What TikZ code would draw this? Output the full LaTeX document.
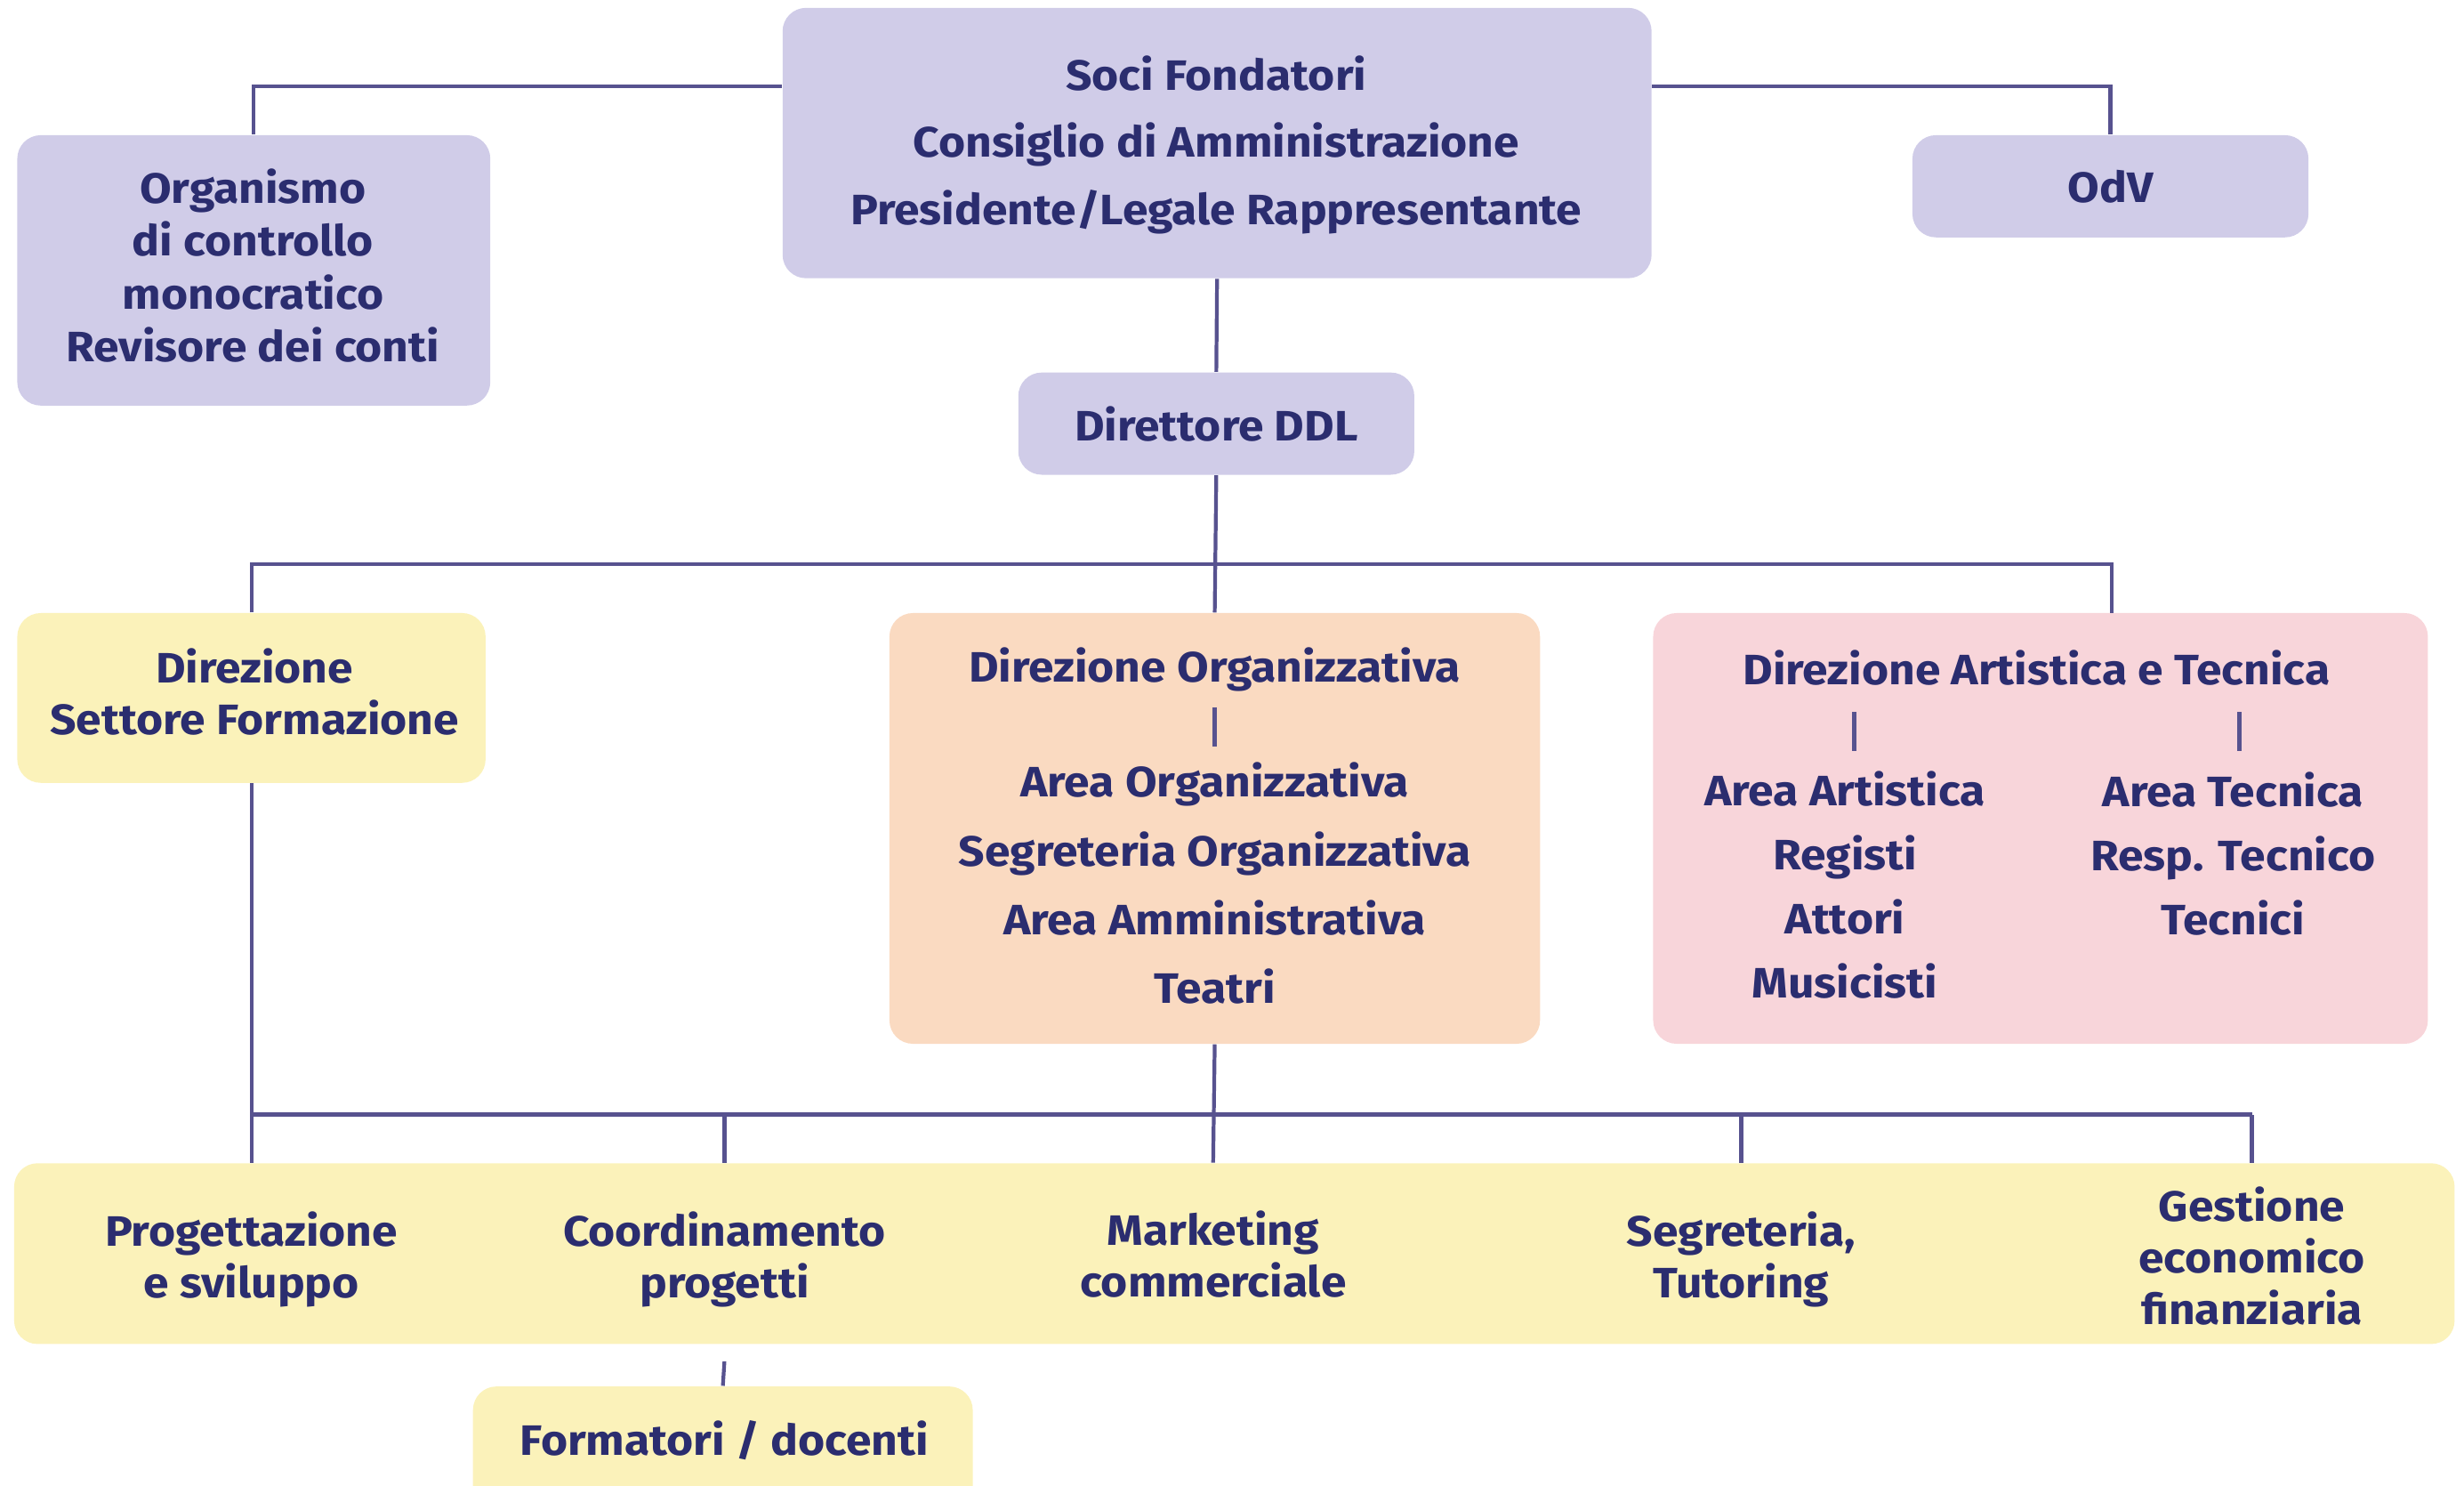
\documentclass[tikz,border=0pt]{standalone}
\usepackage{fontspec}
\setmainfont{Fira Sans}[FakeStretch=1.08]
\usetikzlibrary{positioning}
\definecolor{lilac}{HTML}{D0CCE8}
\definecolor{sand}{HTML}{FBF2BA}
\definecolor{peach}{HTML}{FADAC1}
\definecolor{rose}{HTML}{F8D5DA}
\definecolor{navy}{HTML}{2B2D6F}
\definecolor{wire}{HTML}{57528F}
\newcommand{\unitpx}{0.017666cm}
\tikzstyle{box}=[rectangle,rounded corners=7.5pt,inner sep=0pt]
\tikzstyle{txt}=[text=navy,align=center,inner sep=0pt,font=\bfseries\fontsize{13.6}{16.5}\selectfont]
\tikzstyle{wide}=[txt,font=\bfseries\fontsize{13.6}{21.5}\selectfont]
\tikzstyle{conn}=[draw=wire,line width=1.2pt]

\begin{document}
\begin{tikzpicture}[x=0.017666cm,y=-0.017666cm]
\useasboundingbox (0,0) rectangle (1568,945);

% board and control
\node[box,fill=lilac,minimum width=553*\unitpx,minimum height=172*\unitpx] (soci) at (774.5,91) {};
\node[wide] (socit) at (774,92) {Soci Fondatori\\Consiglio di Amministrazione\\Presidente/Legale Rappresentante};
\node[box,fill=lilac,minimum width=301*\unitpx,minimum height=172*\unitpx] (org) at (161.5,172) {};
\node[txt,font=\bfseries\fontsize{13.6}{16.9}\selectfont] (orgt) at (161,169) {Organismo\\di controllo\\monocratico\\Revisore dei conti};
\node[box,fill=lilac,minimum width=252*\unitpx,minimum height=65*\unitpx,text=navy,font=\bfseries\fontsize{13.6}{16.5}\selectfont] (odv) at (1343,118.5) {OdV};
\node[box,fill=lilac,minimum width=252*\unitpx,minimum height=65*\unitpx,text=navy,font=\bfseries\fontsize{13.6}{16.5}\selectfont] (ddl) at (774,269.5) {Direttore DDL};

% direzioni
\node[box,fill=sand,minimum width=298*\unitpx,minimum height=108*\unitpx] (dsf) at (160,444) {};
\node[txt] (dsft) at (162,440) {Direzione\\Settore Formazione};
\node[box,fill=peach,minimum width=414*\unitpx,minimum height=274*\unitpx] (dorg) at (773,527) {};
\node[txt] (dorgt) at (773,426) {Direzione Organizzativa};
\node[txt,font=\bfseries\fontsize{13.6}{22}\selectfont] (dorgl) at (773,562) {Area Organizzativa\\Segreteria Organizzativa\\Area Amministrativa\\Teatri};
\node[box,fill=rose,minimum width=493*\unitpx,minimum height=274*\unitpx] (dart) at (1298.5,527) {};
\node[txt] (dartt) at (1296,425) {Direzione Artistica e Tecnica};
\node[txt,font=\bfseries\fontsize{13.6}{20.5}\selectfont] (artl) at (1174,563) {Area Artistica\\Registi\\Attori\\Musicisti};
\node[txt,font=\bfseries\fontsize{13.6}{20.5}\selectfont] (tecl) at (1421,543) {Area Tecnica\\Resp. Tecnico\\Tecnici};

% settore formazione
\node[box,fill=sand,minimum width=1553*\unitpx,minimum height=115*\unitpx] (band) at (785.5,797.5) {};
\node[txt] (prog) at (160,801) {Progettazione\\e sviluppo};
\node[txt] (coord) at (461,801) {Coordinamento\\progetti};
\node[txt] (mark) at (772,798) {Marketing\\commerciale};
\node[txt] (segr) at (1108,801) {Segreteria,\\Tutoring};
\node[txt] (gest) at (1433,799) {Gestione\\economico\\finanziaria};
\node[box,fill=sand,minimum width=318*\unitpx,minimum height=130*\unitpx] (form) at (460,947) {};
\node[txt] (formt) at (461,916) {Formatori / docenti};

% connectors
\coordinate (bus0) at (0,55);
\coordinate (bus1) at (0,359);
\coordinate (bus2) at (0,709);
\coordinate (artin) at (1344,390);
\draw[conn] (org.north) |- (soci.west |- bus0);
\draw[conn] (odv.north) |- (soci.east |- bus0);
\draw[conn] (soci.south) -- (ddl.north);
\draw[conn] (ddl.south) -- (dorg.north);
\draw[conn] (dsf.north) |- (artin |- bus1) -- (artin);
\draw[conn] (dsf.south) -- (dsf.south |- band.north);
\draw[conn] (dsf.south |- bus2) -- (gest |- bus2);
\draw[conn] (dorg.south) -- (mark |- band.north);
\foreach \n in {coord,segr,gest}
	\draw[conn] (\n |- bus2) -- (\n |- band.north);
\draw[conn] (coord |- 0,866) -- (form.north);

% small separators
\draw[conn] (773,450) -- (773,475);
\foreach \x in {1180,1425}
	\draw[conn] (\x,453) -- (\x,478);
\end{tikzpicture}
\end{document}
